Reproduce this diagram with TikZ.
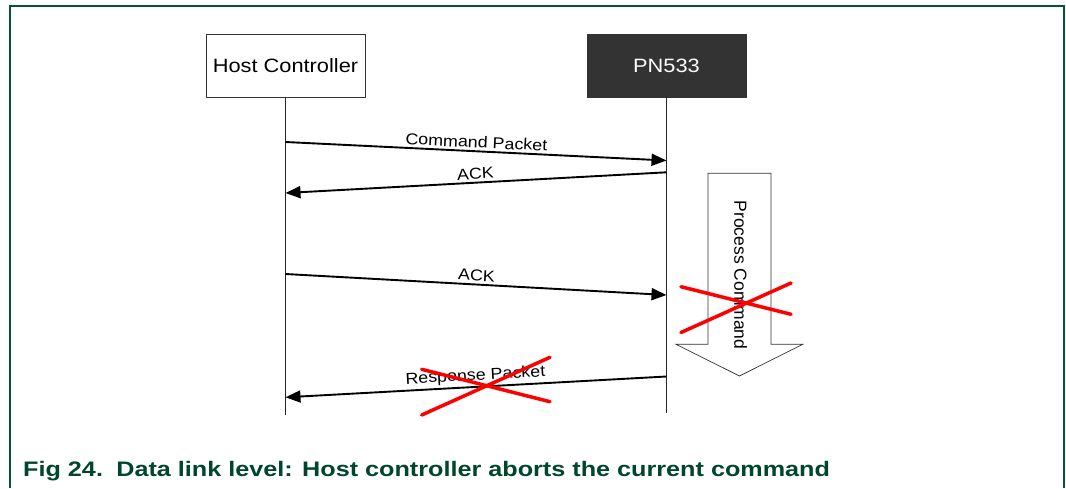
\documentclass[tikz,border=0pt]{standalone}
\usepackage{fontspec}
\setmainfont{Liberation Sans}[FakeStretch=1.13]
\newfontfamily\capfont{Liberation Sans}[FakeStretch=1.2]
\newfontfamily\vertfont{Liberation Sans}
\usetikzlibrary{arrows.meta}
\definecolor{framegreen}{RGB}{0,85,55}
\definecolor{capgreen}{RGB}{0,70,45}
\definecolor{pnfill}{RGB}{51,51,51}

\begin{document}
\begin{tikzpicture}[x=1pt,y=-1pt,
	party/.style={draw=black!80,line width=0.8pt,minimum width=159pt,minimum height=63pt,inner sep=0pt,font=\fontsize{19.3}{22}\selectfont},
	lifeline/.style={draw=black!85,line width=0.8pt},
	msg/.style={line width=1.9pt,-{Triangle[length=15pt,width=12pt]}},
	msglabel/.style={sloped,above,inner sep=2.5pt,font=\fontsize{15.8}{18}\selectfont},
	cross/.style={draw=red,line width=3.5pt,line cap=round}]
				\useasboundingbox (0,0) rectangle (1066,488);
				\draw[framegreen,line width=1.3pt] (10,488) -- (10,6) -- (1064,6) -- (1064,488);
				
				\node[party,fill=white] (host) at (285.5,65.5) {Host Controller};
				\node[party,fill=pnfill,text=white] (pn) at (666.5,65.5) {PN533};
				
				\coordinate (hostend) at (285.5,415);
				\coordinate (pnend) at (666.5,413);
				\draw[lifeline] (host.south) -- (hostend);
				\draw[lifeline] (pn.south) -- (pnend);
				
				\coordinate (h1) at (285.5,142);
				\coordinate (p1) at (666.5,160.5);
				\coordinate (p2) at (666.5,172.3);
				\coordinate (h2) at (285.5,193);
				\coordinate (h3) at (285.5,274);
				\coordinate (p3) at (666.5,295);
				\coordinate (p4) at (666.5,376.5);
				\coordinate (h4) at (285.5,397.3);
				
				\draw[msg] (h1) -- node[msglabel] (cmd) {Command Packet} (p1);
				\draw[msg] (p2) -- node[msglabel] (ack1) {ACK} (h2);
				\draw[msg] (h3) -- node[msglabel] (ack2) {ACK} (p3);
				\draw[msg] (p4) -- node[msglabel] (resp) {Response Packet} (h4);
				
				\draw[draw=black!80,fill=white,line width=0.7pt] (708,173.3) -- (771,173.3) -- (771,344.3) -- (802.7,344.3) -- (739.5,376) -- (676,344.3) -- (708,344.3) -- cycle;
				\node[rotate=-90,font=\vertfont\fontsize{17.5}{20}\selectfont] (proc) at (740.5,275) {Process Command};
				
				\draw[cross] (681,332.5) -- (791,283);
				\draw[cross] (681,286.7) -- (791,314.3);
				\draw[cross] (421.7,415) -- (550,357.3);
				\draw[cross] (421.7,369.3) -- (550,401.7);
				
				\node[anchor=base west,inner sep=0pt,text=capgreen,font=\capfont\bfseries\fontsize{21}{24}\selectfont] (caption) at (23,476.7) {Fig 24.\hspace{4pt} Data link level: Host controller aborts the current command};
			\end{tikzpicture}
\end{document}
